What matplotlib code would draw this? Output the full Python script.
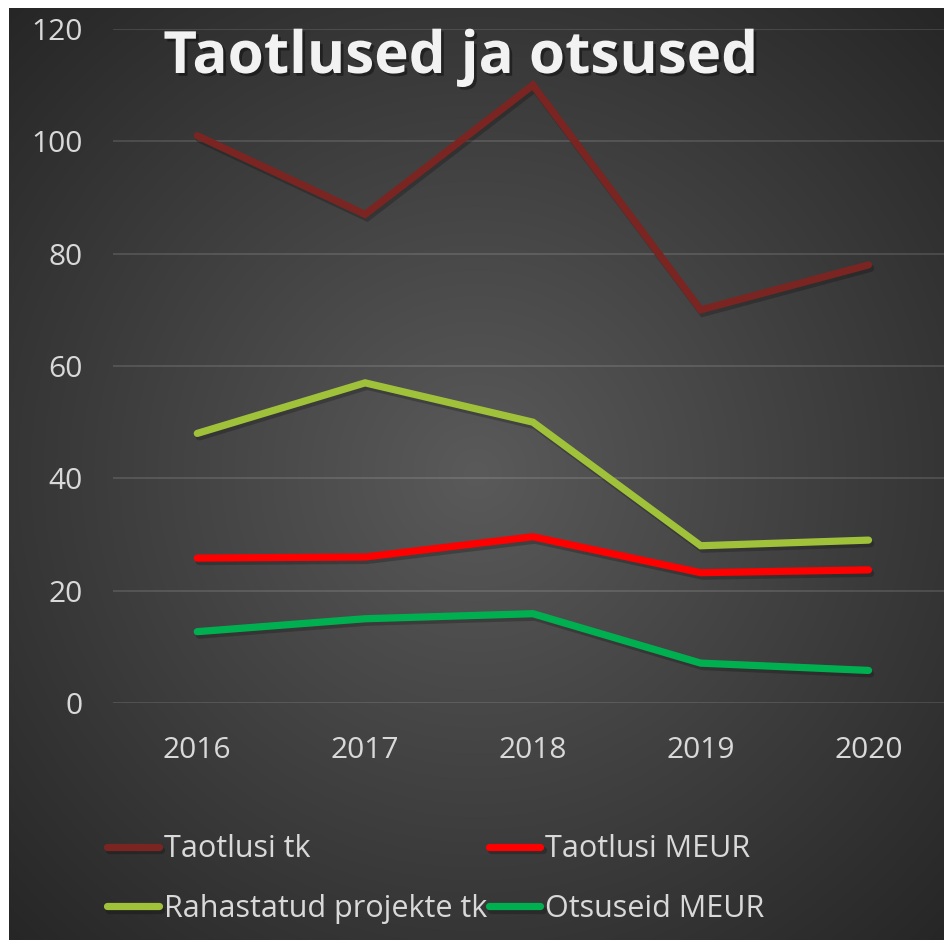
import numpy as np
import matplotlib
matplotlib.use("Agg")
import matplotlib.pyplot as plt
import matplotlib.patheffects as pe

plt.rcParams['font.family'] = ['Open Sans', 'DejaVu Sans']

# andmed
years = ["2016", "2017", "2018", "2019", "2020"]
taotlusi_tk = [101, 87, 110, 70, 78]
taotlusi_meur = [25.8, 26.0, 29.6, 23.2, 23.7]
rahastatud_tk = [48, 57, 50, 28, 29]
otsuseid_meur = [12.7, 15.0, 15.9, 7.1, 5.8]

series = [
    ("Taotlusi tk", taotlusi_tk, "#7b2522"),
    ("Taotlusi MEUR", taotlusi_meur, "#ff0000"),
    ("Rahastatud projekte tk", rahastatud_tk, "#a0c23a"),
    ("Otsuseid MEUR", otsuseid_meur, "#00b050"),
]

W, H = 945, 941
fig = plt.figure(figsize=(W / 100, H / 100), dpi=100, facecolor="white")

# taust: radiaalne gradient
bg = fig.add_axes([9 / W, 1 / H, (944 - 9) / W, (940 - 8) / H])
yy, xx = np.mgrid[0:1:400j, 0:1:400j]
r = np.sqrt((xx - 0.5) ** 2 + (yy - 0.5) ** 2) / 0.71
r = np.clip(r, 0, 1)
c0, c1 = 0x5a / 255, 0x26 / 255
img = c0 + (c1 - c0) * r
bg.imshow(np.dstack([img, img, img]), extent=[0, 1, 0, 1], aspect="auto", interpolation="bilinear")
bg.set_axis_off()

shadow = [pe.SimpleLineShadow(offset=(1.5, -2.5), alpha=0.22, shadow_color="black"), pe.Normal()]

# põhigraafik
x0, x1 = 113.4, 952.4
ax = fig.add_axes([x0 / W, (H - 703) / H, (x1 - x0) / W, (703 - 29) / H])
ax.patch.set_alpha(0)
x = np.arange(len(years))

lines = []
for name, vals, col in series:
    ln, = ax.plot(x, vals, color=col, lw=5.2, label=name,
                  solid_capstyle="round", solid_joinstyle="miter",
                  path_effects=shadow)
    lines.append(ln)

ax.set_xlim(-0.5, 4.5)
ax.set_ylim(0, 120)
ax.set_yticks(range(0, 121, 20))
ax.set_xticks(x)
ax.set_xticklabels(years)
ax.grid(axis="y", color="white", alpha=0.12, lw=1.5)
ax.set_axisbelow(True)
for s in ax.spines.values():
    s.set_visible(False)
ax.tick_params(axis="both", length=0, labelsize=21.5, labelcolor="#d9d9d9")
ax.tick_params(axis="y", pad=22)
ax.tick_params(axis="x", pad=24)

# pealkiri
fig.text(461 / W, 1 - 58 / H, "Taotlused ja otsused", ha="center", va="center",
         fontsize=42, fontweight="bold", color="#f2f2f2",
         path_effects=[pe.withSimplePatchShadow(offset=(2, -2), shadow_rgbFace="black", alpha=0.4)])

# legend (reaviisi järjekord nagu Excelis)
order = [0, 2, 1, 3]
leg = fig.legend([lines[i] for i in order], [series[i][0] for i in order],
                 ncol=2, loc="upper left", bbox_to_anchor=(95 / W, 1 - 822 / H),
                 frameon=False, fontsize=22, labelcolor="#d9d9d9",
                 handlelength=1.7, handletextpad=0.15, columnspacing=0.05,
                 labelspacing=0.98, borderaxespad=0)
for h in leg.legend_handles:
    h.set_linewidth(5.2)
    h.set_path_effects(shadow)

fig.savefig("out.png", dpi=100, facecolor="white")
